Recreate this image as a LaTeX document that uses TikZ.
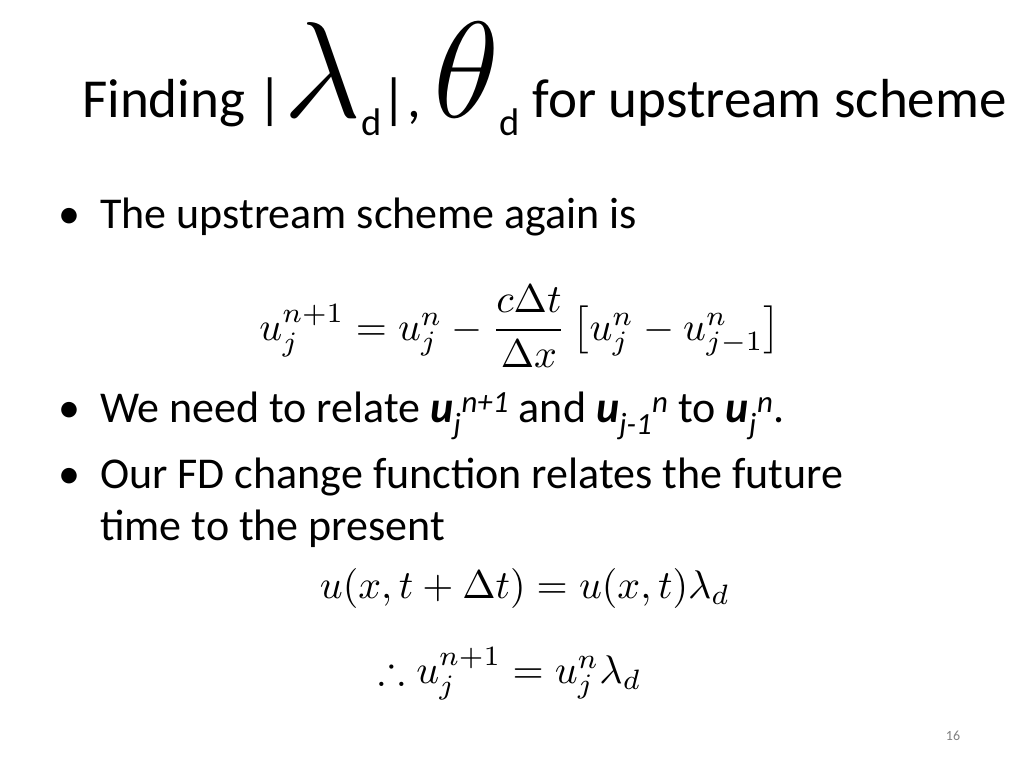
\documentclass[tikz,border=0pt]{standalone}
\usepackage{amsmath,amssymb}
\usepackage{graphicx}
\usepackage{fontspec}
\setmainfont{Carlito}
\begin{document}
\begin{tikzpicture}[x=1pt,y=-1pt,
  body/.style={anchor=base west,inner sep=0pt,font=\fontsize{44}{52}\selectfont},
  eq/.style={anchor=base,inner sep=0pt,scale=4,transform shape}]
\useasboundingbox (0,0) rectangle (1024,768);
\node[anchor=base west,inner sep=0pt,font=\fontsize{55}{64}\selectfont] (title) at (82,117)
  {Finding |\scalebox{5.5}{$\lambda$}\textsubscript{d}|, \scalebox{5.5}{$\theta$}\textsubscript{d} for upstream scheme};
\node[body] (b1d) at (58,228) {•};
\node[body] (b1) at (100,228) {The upstream scheme again is};
\node[eq] (e1) at (520,340) {$u_j^{n+1}=u_j^n-\dfrac{c\Delta t}{\Delta x}\left[u_j^n-u_{j-1}^n\right]$};
\node[body] (b2d) at (58,422) {•};
\node[body] (b2) at (100,422) {We need to relate \textit{\textbf{u}\textsubscript{j}\textsuperscript{n+1}} and \textit{\textbf{u}\textsubscript{j-1}\textsuperscript{n}} to \textit{\textbf{u}\textsubscript{j}\textsuperscript{n}}.};
\node[body] (b3d) at (58,488) {•};
\node[body] (b3) at (100,488) {Our FD change function relates the future};
\node[body] (b3b) at (100,540) {time to the present};
\node[eq] (e2) at (525,598) {$u(x,t+\Delta t)=u(x,t)\lambda_d$};
\node[eq] (e3) at (510,683) {$\therefore u_j^{n+1}=u_j^n\lambda_d$};
\node[anchor=base,inner sep=0pt,font=\fontsize{14}{16}\selectfont,text=gray] (pg) at (953,740) {16};
\end{tikzpicture}
\end{document}
